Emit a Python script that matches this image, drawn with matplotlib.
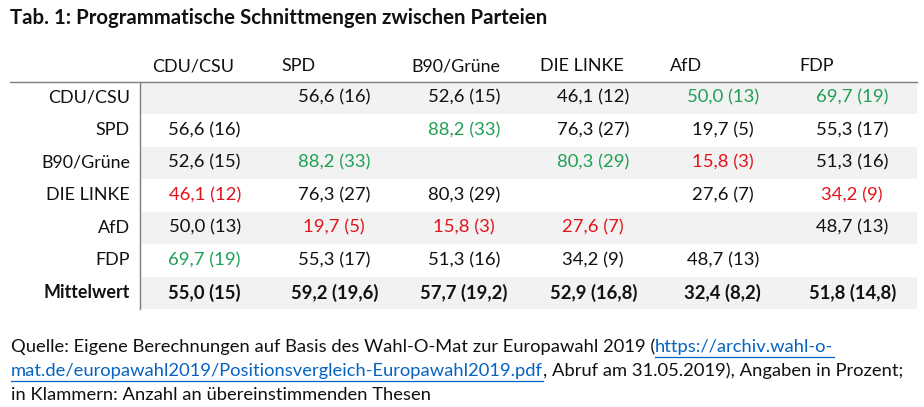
import matplotlib
matplotlib.use("Agg")
import matplotlib.pyplot as plt
import numpy as np

plt.rcParams['font.family'] = ['Lato', 'DejaVu Sans']

parties = ["CDU/CSU", "SPD", "B90/Grüne", "DIE LINKE", "AfD", "FDP"]

# Übereinstimmung in Prozent (Zeile x Spalte), Diagonale leer
pct = np.array([
    [np.nan, 56.6, 52.6, 46.1, 50.0, 69.7],
    [56.6, np.nan, 88.2, 76.3, 19.7, 55.3],
    [52.6, 88.2, np.nan, 80.3, 15.8, 51.3],
    [46.1, 76.3, 80.3, np.nan, 27.6, 34.2],
    [50.0, 19.7, 15.8, 27.6, np.nan, 48.7],
    [69.7, 55.3, 51.3, 34.2, 48.7, np.nan],
])

# Anzahl übereinstimmender Thesen
cnt = np.array([
    [0, 16, 15, 12, 13, 19],
    [16, 0, 33, 27, 5, 17],
    [15, 33, 0, 29, 3, 16],
    [12, 27, 29, 0, 7, 9],
    [13, 5, 3, 7, 0, 13],
    [19, 17, 16, 9, 13, 0],
])

mean_pct = [55.0, 59.2, 57.7, 52.9, 32.4, 51.8]
mean_cnt = [15, 19.6, 19.2, 16.8, 8.2, 14.8]

title = "Tab. 1: Programmatische Schnittmengen zwischen Parteien"
mean_label = "Mittelwert"

GREEN = "#1fa055"
RED = "#e3141c"
BLACK = "#111111"
SHADE = "#f2f2f2"
LINK = "#0563c1"

W, H = 924, 407
fig = plt.figure(figsize=(W / 100, H / 100), dpi=100)
ax = fig.add_axes([0, 0, 1, 1])
ax.set_xlim(0, W)
ax.set_ylim(H, 0)
ax.axis("off")

FS = 13.3
FS_NOTE = 13.2

def de(v, fmt="{:.1f}"):
    return fmt.format(v).replace(".", ",")

# layout
x0 = 140.0
col_w = 129.5
y0 = 81.5
row_h = 32.5
n = len(parties)
x_right = x0 + col_w * n

ax.text(10, 18, title, fontsize=14.7, fontweight="bold", color=BLACK, va="center", ha="left")

# shading of alternating rows
for r in range(n + 1):
    if r % 2 == 0:
        ax.add_patch(plt.Rectangle((x0, y0 + r * row_h), x_right - x0, row_h,
                                   facecolor=SHADE, edgecolor="none", zorder=0))

# header
for c, p in enumerate(parties):
    ax.text(x0 + c * col_w + 12, 66, p, fontsize=FS - 0.4, color=BLACK, va="center", ha="left")

# column-wise best / worst
col_max = np.nanargmax(pct, axis=0)
col_min = np.nanargmin(pct, axis=0)

for r, p in enumerate(parties):
    yc = y0 + (r + 0.5) * row_h
    ax.text(130, yc, p, fontsize=FS - 0.4, color=BLACK, va="center", ha="right")
    for c in range(n):
        if np.isnan(pct[r, c]):
            continue
        color = BLACK
        if col_max[c] == r:
            color = GREEN
        elif col_min[c] == r:
            color = RED
        ax.text(x0 + (c + 0.5) * col_w, yc, f"{de(pct[r, c])} ({cnt[r, c]})",
                fontsize=FS, color=color, va="center", ha="center")

yc = y0 + (n + 0.5) * row_h
ax.text(130, yc, mean_label, fontsize=FS - 0.4, fontweight="bold", color=BLACK, va="center", ha="right")
for c in range(n):
    ax.text(x0 + (c + 0.5) * col_w, yc, f"{de(mean_pct[c])} ({de(mean_cnt[c], '{:g}')})",
            fontsize=FS, fontweight="bold", color=BLACK, va="center", ha="center")

# lines
ax.plot([10, x_right], [y0, y0], color="#7f7f7f", lw=1.0)
ax.plot([x0 - 0.5, x0 - 0.5], [y0, y0 + (n + 1) * row_h], color="#7f7f7f", lw=1.0)

# footnote with link segments
notes = [
    [("Quelle: Eigene Berechnungen auf Basis des Wahl-O-Mat zur Europawahl 2019 (", False),
     ("https://archiv.wahl-o-", True)],
    [("mat.de/europawahl2019/Positionsvergleich-Europawahl2019.pdf", True),
     (", Abruf am 31.05.2019), Angaben in Prozent;", False)],
    [("in Klammern: Anzahl an übereinstimmenden Thesen", False)],
]
fig.canvas.draw()
renderer = fig.canvas.get_renderer()
inv = ax.transData.inverted()
for i, segs in enumerate(notes):
    y = 347 + i * 24
    x = 11
    for txt, link in segs:
        t = ax.text(x, y, txt, fontsize=FS_NOTE, color=LINK if link else BLACK, va="center", ha="left")
        bb = t.get_window_extent(renderer)
        (xa, _), (xb, _) = inv.transform([[bb.x0, bb.y0], [bb.x1, bb.y1]])
        if link:
            ax.plot([xa, xb], [y + 9.5, y + 9.5], color=LINK, lw=0.9)
        x = xb

fig.savefig("out.png", dpi=100)
